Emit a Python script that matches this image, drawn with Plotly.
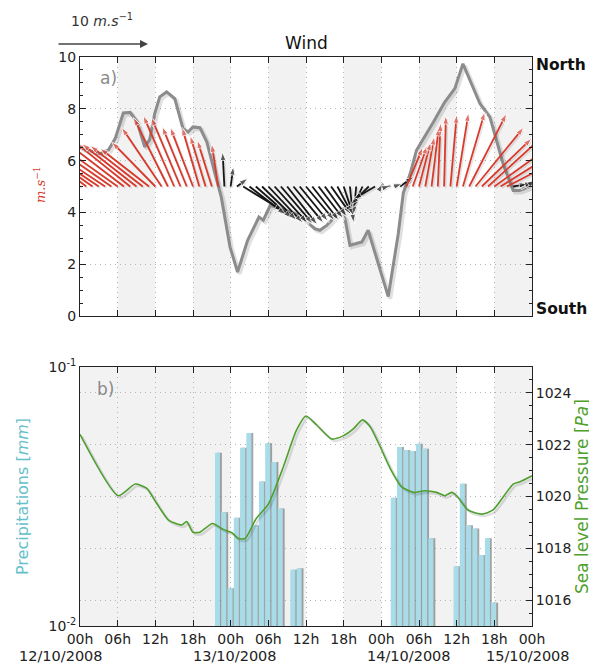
import numpy as np
import plotly.graph_objects as go

# ---------------- data ----------------
tick_hours = list(range(0, 73, 6))
tick_labels = ["00h", "06h", "12h", "18h"] * 3 + ["00h"]
date_labels = ["12/10/2008", "13/10/2008", "14/10/2008", "15/10/2008"]

# wind speed (grey line), hours since 12/10/2008 00h
speed_time = [0, 3.2, 4.5, 5.6, 6.9, 8.0, 9.1, 10.3, 11.1, 11.9, 12.7, 13.8, 15.1, 16.4, 17.2,
              18.0, 19.1, 20.2, 21.5, 22.5, 23.9, 25.1, 26.7, 28.5, 29.2, 30.3, 32.5, 35.0,
              37.4, 38.2, 39.3, 41.9, 43.0, 44.9, 45.9, 49.1, 50.7, 51.5, 52.6, 53.6, 56.3,
              58.1, 59.7, 61.0, 63.7, 65.3, 67.4, 69.0, 70.0, 71.7, 72.0]
speed = [6.5, 6.27, 6.40, 6.85, 7.84, 7.86, 7.49, 6.53, 6.81, 7.81, 8.46, 8.65, 8.39, 7.24, 7.10,
         7.30, 7.27, 6.72, 5.50, 4.59, 2.66, 1.70, 2.92, 3.82, 3.70, 4.27, 4.10, 3.89,
         3.37, 3.31, 3.50, 4.15, 2.73, 2.86, 3.31, 0.75, 3.18, 4.75, 5.50, 6.40, 7.49,
         8.26, 8.78, 9.74, 8.20, 7.68, 5.88, 4.85, 4.85, 5.00, 5.10]

# hourly wind vectors (m/s): u eastward, v northward
arrow_hours = list(range(72))
wind_u = [-5.3, -5.5, -5.7, -5.5, -5.7, -6.0, -6.2, -6.0, -6.0, -6.0, -5.8, -5.4, -4.8, -4.4,
          -3.8, -3.4, -3.2, -2.7, -2.5, -1.9, -1.7, -1.6, -0.7, -0.2, 0.3, 1.2, 4.4, 4.0,
          4.0, 3.8, 3.8, 3.6, 3.5, 3.3, 3.3, 3.1, 3.1, 2.9, 2.7, 2.4, 2.2, 1.6, 1.1, 0.4,
          -0.3, -1.1, -2.0, -2.4, 0.2, 0.3, 0.9, 1.5, 1.8, 1.6, 1.3, 1.0, 0.8, 0.3, 0.2,
          0.7, 1.3, 2.4, 4.1, 5.3, 5.5, 6.0, 6.4, 6.4, 6.0, 1.6, 1.5, 1.1]
wind_v = [4.4, 4.2, 4.0, 3.7, 3.8, 4.2, 4.4, 4.6, 4.8, 4.7, 4.5, 4.2, 4.9, 6.5,
          7.6, 7.8, 7.6, 6.6, 6.5, 6.5, 5.6, 5.1, 4.7, 3.8, 2.2, 0.9, -2.7, -3.1,
          -3.5, -3.7, -4.0, -4.0, -4.1, -4.2, -4.0, -3.8, -3.7, -3.7, -3.5, -3.3, -3.1, -3.0, -3.3, -4.0,
          -3.1, -2.4, -2.0, -1.4, 0.3, 0.1, 0.3, 1.1, 4.3, 4.5, 4.9, 5.5, 6.5, 7.0, 7.8,
          7.9, 8.1, 8.2, 8.0, 6.5, 5.3, 5.5, 4.6, 4.0, 3.1, 0.3, 0.5, 0.7]

# hourly precipitation (mm)
rain_hours = [22, 23, 24, 25, 26, 27, 28, 29, 30, 31, 32, 34, 35,
              50, 51, 52, 53, 54, 55, 56,
              60, 61, 62, 63, 64, 65, 66]
rain_mm = [0.0467, 0.0275, 0.0140, 0.0262, 0.0488, 0.0556, 0.0245, 0.0361, 0.0508, 0.0430, 0.0284, 0.0165, 0.0167,
           0.0313, 0.0491, 0.0478, 0.0474, 0.0506, 0.0484, 0.0218,
           0.0170, 0.0354, 0.0245, 0.0238, 0.0188, 0.0218, 0.0123]

# sea level pressure
pres_time = [0, 6.1, 8.8, 10.6, 12.2, 14.1, 16.2, 17.0, 18.0, 19.1, 21.1, 22.8, 24.2, 25.2, 26.3,
             28.1, 30.0, 32.4, 34.5, 36.0, 37.7, 40.1, 41.9, 43.5, 45.0, 46.2, 47.8, 49.4,
             51.2, 53.1, 54.9, 56.8, 58.1, 59.2, 60.0, 61.8, 64.0, 65.8, 69.0, 70.1, 72.0]
pressure = [1022.40, 1020.03, 1020.48, 1020.32, 1019.74, 1019.09, 1018.90, 1019.03, 1018.62, 1018.62,
            1018.96, 1018.73, 1018.60, 1018.38, 1018.38, 1019.16, 1019.70, 1021.15, 1022.57, 1023.11,
            1022.76, 1022.22, 1022.34, 1022.60, 1022.96, 1022.70, 1021.93, 1021.09, 1020.38, 1020.16,
            1020.22, 1020.16, 1020.03, 1020.16, 1020.03, 1019.48, 1019.32, 1019.48, 1020.48, 1020.57,
            1020.80]

shade_top = [(6, 12), (18, 24), (30, 36), (42, 48), (54, 60), (66, 72)]
shade_bottom = [(0, 24), (30, 36), (42, 48), (54, 60), (66, 72)]

# ---------------- layout geometry ----------------
OFF = 8                       # page body margin of the html page
W, H = 597 - OFF, 664 - OFF
ML, MR, MT, MB = 80 - OFF, 65, 57 - OFF, 38
PW = W - ML - MR              # 452
PH = H - MT - MB              # 569
TOP_PX = 259                  # height of each panel in px
top_dom = [1 - TOP_PX / PH, 1]
bot_dom = [0, TOP_PX / PH]
px_per_h = PW / 72.0
px_per_unit = TOP_PX / 10.0
K = 9.1                       # pixels per m/s for the wind arrows

FONT = "DejaVu Sans"
RED = "#d83a2c"
BLACK = "#161616"
GREY = "rgb(140,140,140)"
GREEN = "#4f9f2f"
BLUE = "#a8dce8"
TEAL = "#66c0ca"
GRID = "#b4b4b4"

fig = go.Figure()

# grey speed line with shadow
sh_x = np.array(speed_time) + 2 / px_per_h
sh_y = np.array(speed) - 2 / px_per_unit
fig.add_trace(go.Scatter(x=sh_x, y=sh_y, mode="lines", line=dict(color="rgba(0,0,0,0.12)", width=4),
                         hoverinfo="skip", showlegend=False, xaxis="x", yaxis="y"))
fig.add_trace(go.Scatter(x=speed_time, y=speed, mode="lines", line=dict(color=GREY, width=3),
                         hoverinfo="skip", showlegend=False, xaxis="x", yaxis="y"))

# wind arrows
strong = np.interp(arrow_hours, speed_time, speed) > 5


def arrows(mask, color, dx=0.0, dy=0.0, size=9):
    xs, ys, sz = [], [], []
    for h, u, v, m in zip(arrow_hours, wind_u, wind_v, mask):
        if not m:
            continue
        xs += [h + dx, h + dx + u * K / px_per_h, None]
        ys += [5 + dy, 5 + dy + v * K / px_per_unit, None]
        sz += [0, size, 0]
    return go.Scatter(x=xs, y=ys, mode="lines+markers",
                      line=dict(color=color, width=1.8),
                      marker=dict(symbol="arrow", size=sz, angleref="previous", color=color),
                      hoverinfo="skip", showlegend=False, xaxis="x", yaxis="y")


shx, shy = 1.5 / px_per_h, -1.5 / px_per_unit
fig.add_trace(arrows(np.ones(len(arrow_hours), bool), "rgba(0,0,0,0.10)", shx, shy))
fig.add_trace(arrows(~strong, BLACK))
fig.add_trace(arrows(strong, RED))

# precipitation bars (with shadow)
fig.add_trace(go.Bar(x=rain_hours, y=rain_mm, width=0.8, offset=-0.2,
                     marker=dict(color="rgba(90,90,90,0.55)", line=dict(width=0)),
                     hoverinfo="skip", showlegend=False, xaxis="x2", yaxis="y2"))
fig.add_trace(go.Bar(x=rain_hours, y=rain_mm, width=0.8, offset=-0.5,
                     marker=dict(color=BLUE, line=dict(width=0)),
                     hoverinfo="skip", showlegend=False, xaxis="x2", yaxis="y2"))

# pressure line with shadow
fig.add_trace(go.Scatter(x=np.array(pres_time) + 2 / px_per_h, y=np.array(pressure) - 2 / 25.9, mode="lines",
                         line=dict(color="rgba(0,0,0,0.12)", width=2.5, shape="spline", smoothing=0.6),
                         hoverinfo="skip", showlegend=False, xaxis="x2", yaxis="y3"))
fig.add_trace(go.Scatter(x=pres_time, y=pressure, mode="lines",
                         line=dict(color=GREEN, width=1.6, shape="spline", smoothing=0.6),
                         hoverinfo="skip", showlegend=False, xaxis="x2", yaxis="y3"))

shapes = []
for a, b in shade_top:
    shapes.append(dict(type="rect", xref="x", yref="y domain", x0=a, x1=b, y0=0, y1=1,
                       fillcolor="#f2f2f2", line=dict(width=0), layer="below"))
for a, b in shade_bottom:
    shapes.append(dict(type="rect", xref="x2", yref="y2 domain", x0=a, x1=b, y0=0, y1=1,
                       fillcolor="#f2f2f2", line=dict(width=0), layer="below"))

tickfont = dict(family=FONT, size=14, color="#222")
common_x = dict(range=[0, 72], tickvals=tick_hours, ticks="inside", ticklen=6, tickcolor="#222",
                showline=True, linecolor="#222", linewidth=1, mirror="ticks",
                showgrid=True, gridcolor=GRID, griddash="1px,4px", gridwidth=1, zeroline=False,
                tickfont=tickfont)

ann = []


def px_to_paper(px, py):
    # px, py: position in the page (window) pixels
    return (px - OFF - ML) / PW, (H - MB - (py - OFF)) / PH


def add_text(text, px, py, size=13, color="#222", angle=0, xanchor="center", family=FONT, **kw):
    x, y = px_to_paper(px, py)
    ann.append(dict(text=text, x=x, y=y, xref="paper", yref="paper", showarrow=False,
                    xanchor=xanchor, yanchor="middle", textangle=angle,
                    font=dict(family=family, size=size, color=color), **kw))


add_text("Wind", 306, 43, size=17, color="#111")
add_text("<b>North</b>", 534, 65, size=15.5, color="#111", xanchor="left")
add_text("<b>South</b>", 534, 309, size=15.5, color="#111", xanchor="left")
add_text("a)", 108, 78, size=17, color="#8a8a8a")
add_text("b)", 105, 389, size=17, color="#8a8a8a")
add_text("<i>m.s</i><sup>−1</sup>", 40, 185, size=13, color=RED, angle=-90, family="DejaVu Serif")
add_text("Precipitations [<i>mm</i>]", 22, 497, size=16, color=TEAL, angle=-90)
add_text("Sea level Pressure [<i>Pa</i>]", 582, 497, size=17, color=GREEN, angle=-90)
add_text("10 <i>m.s</i><sup>−1</sup>", 102, 20, size=14, color="#333")
for lbl, cx in zip(date_labels, [61, 235, 409, 528]):
    add_text(lbl, cx, 656, size=14.5, color="#222")

# scale arrow (10 m/s)
hx, hy = px_to_paper(148, 44)
ann.append(dict(text="", x=hx, y=hy, xref="paper", yref="paper", showarrow=True,
                ax=-91, ay=0, axref="pixel", ayref="pixel", arrowhead=2, arrowsize=1,
                arrowwidth=1.6, arrowcolor="#444"))

fig.update_layout(
    width=W, height=H, margin=dict(l=ML, r=MR, t=MT, b=MB),
    paper_bgcolor="white", plot_bgcolor="white",
    barmode="overlay", showlegend=False,
    font=dict(family=FONT, size=14, color="#222"),
    shapes=shapes, annotations=ann,
    xaxis=dict(domain=[0, 1], anchor="y", showticklabels=False, **common_x),
    yaxis=dict(domain=top_dom, anchor="x", range=[0, 10], tickvals=[0, 2, 4, 6, 8, 10],
               ticks="inside", ticklen=6, tickcolor="#222", showline=True, linecolor="#222",
               linewidth=1, mirror="ticks", showgrid=True, gridcolor=GRID, griddash="1px,4px",
               zeroline=False, tickfont=tickfont,
               minor=dict(dtick=0.5, ticks="inside", ticklen=3, tickcolor="#222", showgrid=False)),
    xaxis2=dict(domain=[0, 1], anchor="y2", ticktext=tick_labels, **common_x),
    yaxis2=dict(domain=bot_dom, anchor="x2", type="log", range=[-2, -1],
                tickvals=[0.01, 0.1], ticktext=["10<sup>-2</sup>", "10<sup>-1</sup>"],
                ticks="inside", ticklen=6, tickcolor="#222", showline=True, linecolor="#222",
                linewidth=1, showgrid=False, zeroline=False, tickfont=tickfont),
    yaxis3=dict(overlaying="y2", side="right", anchor="x2", range=[1015, 1025],
                tickvals=[1016, 1018, 1020, 1022, 1024], ticks="inside", ticklen=6, tickcolor="#222",
                showline=True, linecolor="#222", linewidth=1,
                showgrid=True, gridcolor=GRID, griddash="1px,4px", zeroline=False, tickfont=tickfont,
                minor=dict(dtick=0.5, ticks="inside", ticklen=3, tickcolor="#222", showgrid=False)),
)

fig.write_html("out.html")
